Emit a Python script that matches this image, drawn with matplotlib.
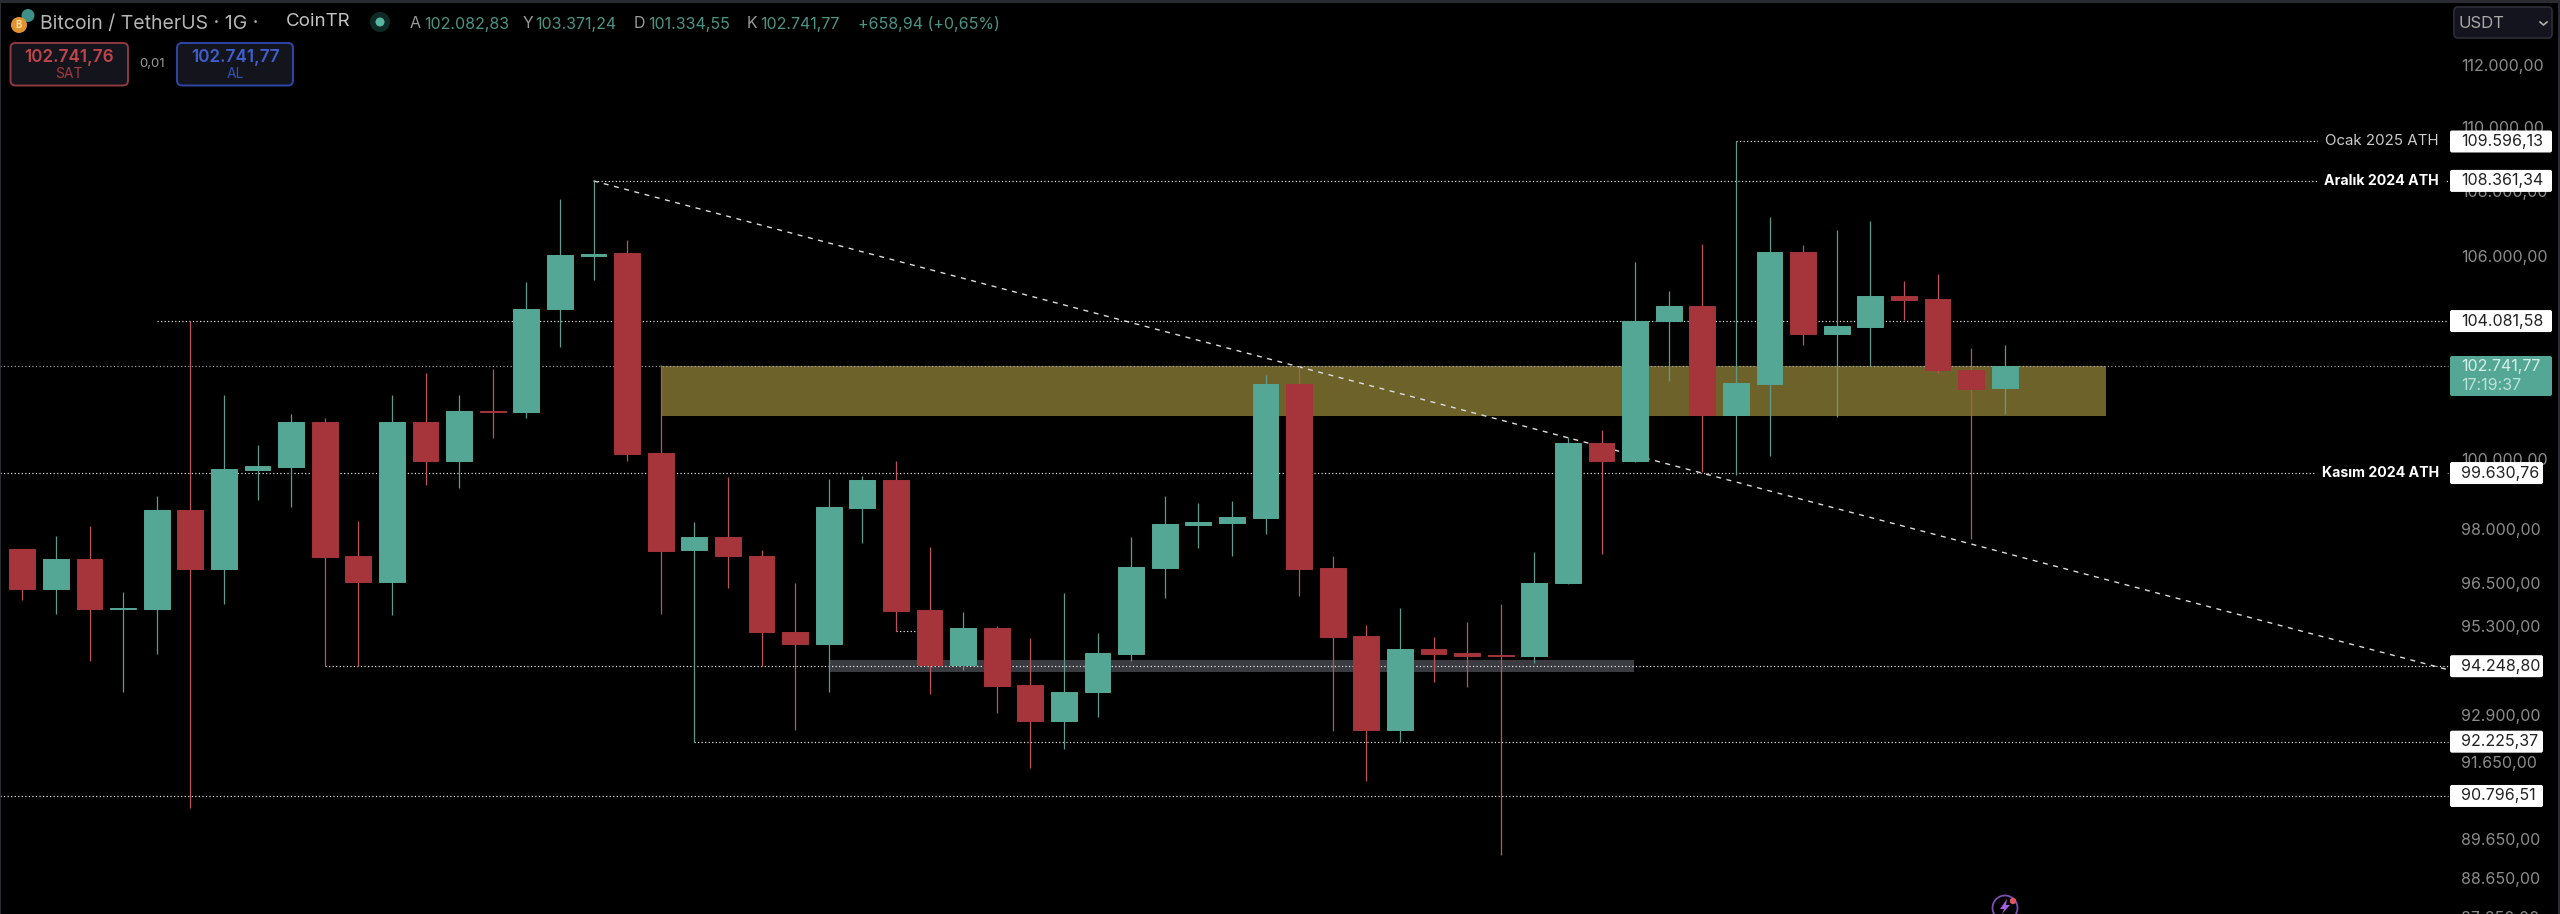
import matplotlib
matplotlib.use("Agg")
import matplotlib.pyplot as plt
from matplotlib.patches import Circle, FancyBboxPatch, Polygon, Rectangle

plt.rcParams["font.family"] = ["Inter", "DejaVu Sans"]

# daily candles, oldest first
opens = [
    97467, 96371, 97198, 95820, 95820, 98585, 96931, 99730, 99802, 101114,
    97271, 96567, 101114, 99975, 101414, 101403, 104429, 106052, 106131, 100209,
    97441, 97806, 97293, 95189, 94862, 98638, 99419, 95780, 94271, 95298,
    93745, 92763, 93547, 94581, 96957, 98153, 98209, 98338, 102221, 96948,
    95066, 92538, 94729, 94598, 94552, 94533, 96522, 100486, 99966, 104070,
    104536, 101305, 102221, 106159, 103705, 103893, 104845, 104735, 102636, 102082.83,
]
highs = [
    97467, 97831, 98122, 96276, 98977, 104082, 101883, 100440, 101328, 101227,
    98268, 101883, 102524, 101883, 102654, 105255, 107787, 108361.34, 106540, 102785,
    98232, 99525, 97461, 96528, 99459, 99554, 99966, 97537, 95733, 95352,
    95017, 96248, 95153, 97825, 98977, 98770, 98826, 102467, 102734, 97273,
    95379, 95845, 95047, 95450, 95937, 97383, 100671, 100875, 105875, 104998,
    106424, 109596.13, 107240, 106394, 106852, 107127, 105294, 105499, 103269, 103371.24,
]
lows = [
    96068, 95679, 94380, 93555, 94592, 90492, 95962, 98851, 98657, 94248.80,
    94248.80, 95654, 99300, 99203, 100639, 101227, 103322, 105322, 99982, 95679,
    92225.37, 96388, 94248.80, 92525, 93563, 97638, 95197, 93492, 94154, 93001,
    91530, 92033, 92879, 94399, 96108, 97509, 97273, 97909, 96172, 92499,
    91200, 92225.37, 93819, 93696, 89266, 94343, 96508, 97335, 99937, 102289,
    99661, 99583, 100131, 103358, 101264, 102755, 104120, 102539, 97769, 101334.55,
]
closes = [
    96371, 97198, 95820, 95831, 98585, 96931, 99739, 99825, 101114, 97248,
    96567, 101114, 99975, 101414, 101403, 104444, 106076, 106116, 100189, 97436,
    97806, 97273, 95170, 94862, 98657, 99419, 95769, 94271, 95298, 93726,
    92763, 93563, 94598, 96976, 98170, 98237, 98366, 102221, 96928, 95044,
    92538, 94729, 94579, 94522, 94522, 96542, 100486, 99970, 104082, 104536,
    101305, 102251, 106159, 103705, 103922, 104845, 104714, 102616, 102064, 102741.77,
]

tick_prices = [112000, 110000, 108000, 106000, 100000, 98000, 96500, 95300,
               92900, 91650, 89650, 88650, 87650]
tick_labels = ["112.000,00", "110.000,00", "108.000,00", "106.000,00", "100.000,00",
               "98.000,00", "96.500,00", "95.300,00", "92.900,00", "91.650,00",
               "89.650,00", "88.650,00", "87.650,00"]

level_prices = [109596.13, 108361.34, 104081.58, 99630.76, 94248.80, 92225.37, 90796.51]
level_labels = ["109.596,13", "108.361,34", "104.081,58", "99.630,76",
                "94.248,80", "92.225,37", "90.796,51"]
level_starts = [51, 17, 4, -1, 9, 20, -1]
level_notes = {109596.13: "Ocak 2025 ATH", 108361.34: "Aralık 2024 ATH", 99630.76: "Kasım 2024 ATH"}

last_price = 102741.77

GREEN = "#55a795"
RED = "#a5343b"
WICK_GREEN = "#5f9a8c"
WICK_RED = "#bb555b"
BG = "#000000"


def px(x):
    # screen pixel to candle index
    return (x - 22.3) / 33.6


fig = plt.figure(figsize=(25.6, 9.14), dpi=100, facecolor=BG)
ax = fig.add_axes([0, 0, 1, 1], facecolor=BG)
ax.set_yscale("log")
ax.set_xlim(px(0), px(2560))
ax.set_ylim(87767, 114147)
ax.axis("off")

# zones under the candles
ax.fill_between([px(660.7), px(2105.7)], 101285, last_price, color="#6d632a", lw=0, zorder=1)
ax.fill_between([px(829), px(1634)], 94091, 94407, color="#3a3a41", lw=0, zorder=1)

# candles
x = list(range(len(opens)))
ups = [c >= o for o, c in zip(opens, closes)]
wick_colors = [WICK_GREEN if u else WICK_RED for u in ups]
body_colors = [GREEN if u else RED for u in ups]
ax.vlines(x, lows, highs, colors=wick_colors, lw=0.9, zorder=3)
body_low = [min(o, c) for o, c in zip(opens, closes)]
body_high = [max(o, c) for o, c in zip(opens, closes)]
ax.bar(x, [h - l for h, l in zip(body_high, body_low)], bottom=body_low, width=0.77,
       color=body_colors, edgecolor=body_colors, lw=0.7, zorder=4)

# dotted levels run behind the candles, the last price one is dimmer
dots = (0, (1, 2))
line_end = px(2448)
for price, start in zip(level_prices, level_starts):
    x0 = px(0) if start < 0 else start
    ax.hlines(price, x0, line_end, colors="#f2f2f2", lw=0.85, linestyles=[dots], zorder=2)
ax.hlines(last_price, px(0), line_end, colors="#a8a8a8", lw=0.85, linestyles=[dots], zorder=2)
ax.hlines(95197, 26, px(915), colors="#f2f2f2", lw=0.85, linestyles=[dots], zorder=2)

# trend line
ax.plot([17, line_end], [108361.34, 94154], color="#dcdcdc", lw=1.0, ls=(0, (3.6, 4)), zorder=2)


# overlay in screen pixels for the interface parts
ui = fig.add_axes([0, 0, 1, 1], facecolor="none")
ui.set_xlim(0, 2560)
ui.set_ylim(914, 0)
ui.axis("off")


def price_y(price):
    return 914 - ax.transData.transform((0, price))[1]


def box(x0, y0, x1, y1, face, edge="none", lw=1.0, r=3, z=3):
    ui.add_patch(FancyBboxPatch((x0 + r, y0 + r), x1 - x0 - 2 * r, y1 - y0 - 2 * r,
                                boxstyle=f"round,pad={r},rounding_size={r}",
                                fc=face, ec=edge, lw=lw, zorder=z))


# frame
ui.add_patch(Rectangle((0, 0), 2560, 2.5, fc="#2b2b33", lw=0, zorder=8))
ui.add_patch(Rectangle((2557.5, 0), 2.5, 914, fc="#2b2b33", lw=0, zorder=8))
ui.add_patch(Rectangle((0, 0), 1.2, 914, fc="#2b2b33", lw=0, zorder=8))

# price axis
for price, label in zip(tick_prices, tick_labels):
    ui.text(2461, price_y(price), label, color="#8c8c8c", fontsize=11.5, va="center", ha="left", zorder=2)

for price, label in zip(level_prices, level_labels):
    y = price_y(price)
    width = 102 if price >= 100000 else 93
    box(2450, y - 11, 2450 + width, y + 11, "white", r=2)
    ui.text(2461, y, label, color="#222222", fontsize=11.5, va="center", ha="left", zorder=4)
    if price in level_notes:
        bold = price != 109596.13
        ui.text(2439, y, level_notes[price], color="white" if bold else "#cccccc",
                fontsize=10.2 if bold else 10.8, fontweight="bold" if bold else "normal", va="center", ha="right",
                zorder=4, bbox=dict(fc=BG, ec="none", pad=5))

box(2450, 356, 2552, 396, GREEN, r=2)
ui.text(2461, 366, "102.741,77", color="#d5efe8", fontsize=11.5, va="center", ha="left", zorder=4)
ui.text(2461, 385, "17:19:37", color="#b9e3d8", fontsize=11.5, va="center", ha="left", zorder=4)

# header
ui.add_patch(Circle((19, 25), 8, fc="#e0932f", lw=0, zorder=4))
ui.add_patch(Circle((28, 15.5), 6.5, fc="#3d8f88", lw=0, zorder=3))
ui.text(19, 25, "B", color="#ffd9a0", fontsize=7, fontweight="bold", ha="center", va="center", zorder=5)
ui.text(40, 24, "Bitcoin / TetherUS · 1G ·", color="#b5b5b5", fontsize=14, va="center")
ui.text(286, 21, "CoinTR", color="#c4c4c4", fontsize=13.5, va="center")
ui.add_patch(Circle((380, 22), 10, fc="#0e2a26", lw=0, zorder=3))
ui.add_patch(Circle((380, 22), 4.5, fc="#5ab5a0", lw=0, zorder=4))

header_parts = [(410, "A", "#9a9a9a"), (424, "102.082,83", "#4b9483"), (523, "Y", "#9a9a9a"), (535, "103.371,24", "#4b9483"),
                (634, "D", "#9a9a9a"), (648, "101.334,55", "#4b9483"), (747, "K", "#9a9a9a"), (760, "102.741,77", "#4b9483"),
                (858, "+658,94 (+0,65%)", "#4b9483")]
for hx, text, color in header_parts:
    ui.text(hx, 24, text, color=color, fontsize=11.5, va="center")

box(10.5, 43, 128, 85.5, "#14141c", "#8e3a40", lw=1.4, r=5)
ui.text(69, 57, "102.741,76", color="#c0444c", fontsize=12.3, fontweight="semibold", ha="center", va="center", zorder=4)
ui.text(69, 74.5, "SAT", color="#a8383f", fontsize=10, ha="center", va="center", zorder=4)
ui.text(152, 64, "0,01", color="#9a9a9a", fontsize=9.5, ha="center", va="center")
box(177, 43, 293, 85.5, "#14141c", "#2f46a8", lw=1.4, r=5)
ui.text(235, 57, "102.741,77", color="#3f5fd0", fontsize=12.3, fontweight="semibold", ha="center", va="center", zorder=4)
ui.text(235, 74.5, "AL", color="#3450b0", fontsize=10, ha="center", va="center", zorder=4)

box(2454, 7, 2552, 38, "#14141e", "#2e2e38", lw=1.2, r=4)
ui.text(2459, 23, "USDT", color="#a8a8a8", fontsize=12, va="center", zorder=4)
ui.plot([2540, 2543.5, 2547], [22, 25, 22], color="#b0b0b0", lw=1.2, zorder=4)

# small bolt badge at the bottom edge
ui.add_patch(Circle((2005, 908), 12.5, fc="none", ec="#7a4fb0", lw=1.3, zorder=4))
ui.add_patch(Polygon([(2007, 899), (2000, 909), (2004, 909), (2002, 914), (2010, 905), (2006, 905)],
                     fc="#a35fe0", lw=0, zorder=5))
ui.add_patch(Circle((2013, 901), 3.2, fc="#e05560", lw=0, zorder=6))

fig.savefig("out.png", dpi=100, facecolor=BG)
